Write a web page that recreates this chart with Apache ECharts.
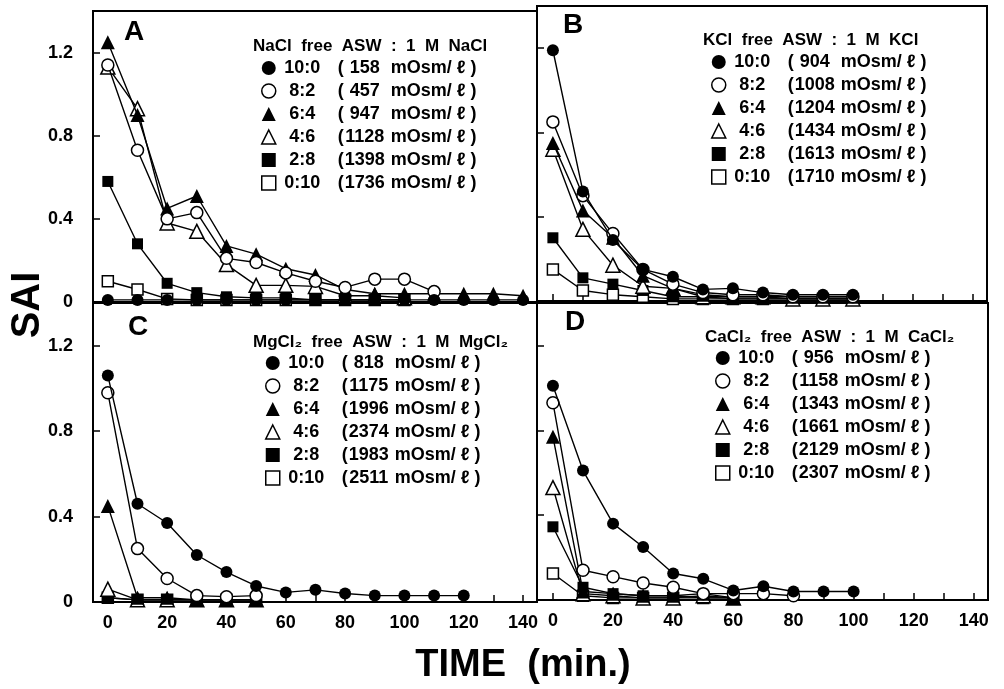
<!DOCTYPE html>
<html><head><meta charset="utf-8">
<script src="https://cdn.jsdelivr.net/npm/echarts@6/dist/echarts.min.js"></script>
<style>html,body{margin:0;padding:0;background:#fff}#c{width:1004px;height:689px}</style>
</head><body><div id="c"></div>
<script>
// ---------- data ----------
const TIME = [0,10,20,30,40,50,60,70,80,90,100,110,120,130,140];
const X_TICKS = [0,10,20,30,40,50,60,70,80,90,100,110,120,130,140];
const X_LABELS = [0,20,40,60,80,100,120,140];
const Y_TICKS = [0,0.4,0.8,1.2];
const RATIOS = ['10:0','8:2','6:4','4:6','2:8','0:10'];

const PANEL_LETTERS = ['A','B','C','D'];
const PANEL_HEADERS = [
  'NaCl  free  ASW  :  1  M  NaCl',
  'KCl  free  ASW  :  1  M  KCl',
  'MgCl₂  free  ASW  :  1  M  MgCl₂',
  'CaCl₂  free  ASW  :  1  M  CaCl₂'
];
const OSM_A = [158,457,947,1128,1398,1736];
const OSM_B = [904,1008,1204,1434,1613,1710];
const OSM_C = [818,1175,1996,2374,1983,2511];
const OSM_D = [956,1158,1343,1661,2129,2307];

// Panel A : NaCl
const A_10_0 = [0.01,0.01,0.01,0.01,0.01,0.01,0.01,0.01,0.01,0.01,0.01,0.01,0.01,0.01,0.01];
const A_8_2  = [1.14,0.73,0.40,0.43,0.21,0.19,0.14,0.10,0.07,0.11,0.11,0.05];
const A_6_4  = [1.25,0.90,0.45,0.51,0.27,0.23,0.16,0.13,0.06,0.04,0.04,0.04,0.04,0.04,0.03];
const A_4_6  = [1.13,0.93,0.38,0.34,0.18,0.08,0.08,0.075,0.03,0.03,0.02];
const A_2_8  = [0.58,0.28,0.09,0.045,0.025,0.02,0.02,0.01,0.01,0.01,0.01];
const A_0_10 = [0.10,0.06,0.015,0.01,0.01,0.01,0.01,0.01,0.01,0.01,0.01];

// Panel B : KCl
const B_10_0 = [1.19,0.52,0.29,0.15,0.115,0.055,0.06,0.04,0.03,0.03,0.03];
const B_8_2  = [0.85,0.50,0.32,0.15,0.08,0.04,0.03,0.03,0.02,0.02,0.02];
const B_6_4  = [0.75,0.43,0.30,0.12,0.06,0.03,0.02,0.02,0.02,0.02,0.02];
const B_4_6  = [0.72,0.34,0.17,0.07,0.06,0.02,0.02,0.02,0.01,0.01,0.01];
const B_2_8  = [0.30,0.11,0.08,0.05,0.02,0.02,0.01,0.01,0.01,0.01,0.01];
const B_0_10 = [0.15,0.05,0.03,0.02,0.01,0.01,0.01,0.01,0.01,0.01,0.01];

// Panel C : MgCl2
const C_10_0 = [1.06,0.46,0.37,0.22,0.14,0.075,0.045,0.057,0.04,0.03,0.03,0.03,0.03];
const C_8_2  = [0.98,0.25,0.11,0.03,0.025,0.03];
const C_6_4  = [0.45,0.02,0.02,0.01,0.01,0.01];
const C_4_6  = [0.06,0.01,0.01,0.01,0.01,0.01];
const C_2_8  = [0.02,0.01,0.01,0.01,0.01,0.01];
const C_0_10 = [0.02,0.01,0.01,0.01,0.01,0.01];

// Panel D : CaCl2
const D_10_0 = [1.01,0.61,0.36,0.25,0.125,0.10,0.045,0.065,0.04,0.04,0.04];
const D_8_2  = [0.93,0.14,0.11,0.08,0.06,0.03,0.03,0.03,0.02];
const D_6_4  = [0.77,0.04,0.03,0.02,0.02,0.03,0.01];
const D_4_6  = [0.53,0.03,0.02,0.01,0.01,0.02,0.01];
const D_2_8  = [0.345,0.06,0.03,0.02,0.02,0.01,0.01];
const D_0_10 = [0.125,0.02,0.01,0.01,0.01,0.01,0.01];

const PANEL_SERIES = [
  [A_10_0,A_8_2,A_6_4,A_4_6,A_2_8,A_0_10],
  [B_10_0,B_8_2,B_6_4,B_4_6,B_2_8,B_0_10],
  [C_10_0,C_8_2,C_6_4,C_4_6,C_2_8,C_0_10],
  [D_10_0,D_8_2,D_6_4,D_4_6,D_2_8,D_0_10]
];
const PANEL_OSM = [OSM_A,OSM_B,OSM_C,OSM_D];

// ---------- styling / layout ----------
const FONT = 'Liberation Sans, Arial, sans-serif';
const SYMBOLS = ['circle','circle','triangle','triangle','rect','rect'];
const SIZES = [12,12,14,14,11,11];
const FILLED = [true,false,true,false,true,false];
const GRIDS = [
  {left:93, top:11, width:444, height:291},
  {left:537, top:6, width:450, height:295},
  {left:93, top:303, width:444, height:299},
  {left:537, top:303, width:451, height:297}
];
const XRANGE = [[-5,144.7],[-5.3,144.7],[-5,144.7],[-5.3,144.7]];
const LEGEND_POS = [{left:261,top:59},{left:711,top:53},{left:265,top:354},{left:715,top:349}];
const HEADER_POS = [{x:253,y:46},{x:703,y:40},{x:253,y:342},{x:705,y:337}];
const LETTER_POS = [{x:134,y:32},{x:573,y:25},{x:138,y:327},{x:575,y:322}];

const nameInfo = {};
const series = [];
const legends = [];
PANEL_SERIES.forEach((arrs, pi) => {
  const names = [];
  arrs.forEach((vals, si) => {
    const osm = PANEL_OSM[pi][si];
    const name = RATIOS[si] + ' (' + osm + ' mOsm/ℓ)';
    nameInfo[name] = {r: RATIOS[si], osm: osm};
    names.push(name);
    const ist = FILLED[si] ? {color:'#000', borderColor:'#000', borderWidth:0}
                           : {color:'#fff', borderColor:'#000', borderWidth:1.5};
    series.push({
      type:'line', name: name, xAxisIndex: pi, yAxisIndex: pi,
      data: vals.map((v,i)=>[TIME[i], v]),
      symbol: SYMBOLS[si], symbolSize: SIZES[si], showAllSymbol: true,
      lineStyle: {color:'#000', width:1.4},
      itemStyle: ist,
      emphasis: {disabled:true},
      silent: true,
      z: 2 + (5 - si) * 0.1
    });
  });
  legends.push({
    orient:'vertical', left: LEGEND_POS[pi].left, top: LEGEND_POS[pi].top,
    padding: 0, itemGap: 5, itemWidth: 14, itemHeight: 14, selectedMode: false,
    data: names.map((n, si) => ({
      name: n, icon: SYMBOLS[si],
      itemStyle: FILLED[si] ? {color:'#000', borderColor:'#000', borderWidth:0}
                            : {color:'#fff', borderColor:'#000', borderWidth:1.5}
    })),
    formatter: (name) => {
      const inf = nameInfo[name];
      return '{r|' + inf.r + '}{o|(}{n|' + inf.osm + '}{u| mOsm/ ℓ )}';
    },
    textStyle: {
      color:'#000', fontFamily: FONT, fontWeight:'bold', fontSize:18, lineHeight:14,
      rich: {
        r: {width:43, align:'right', fontFamily: FONT, fontWeight:'bold', fontSize:18, lineHeight:14, color:'#000'},
        o: {padding:[0,0,0,14], fontFamily: FONT, fontWeight:'bold', fontSize:18, lineHeight:14, color:'#000'},
        n: {width:42, align:'right', fontFamily: FONT, fontWeight:'bold', fontSize:18, lineHeight:14, color:'#000'},
        u: {fontFamily: FONT, fontWeight:'bold', fontSize:18, lineHeight:14, color:'#000'}
      }
    }
  });
});

const xAxes = GRIDS.map((g, pi) => ({
  gridIndex: pi, type:'value', min: XRANGE[pi][0], max: XRANGE[pi][1],
  axisLine: {show:true, onZero:false, lineStyle:{color:'#000', width:2}},
  axisTick: {show:true, inside:true, length:7, customValues: X_TICKS, lineStyle:{color:'#000', width:1.5}},
  axisLabel: {show: pi >= 2, customValues: X_LABELS, margin: 12, color:'#000',
              fontFamily: FONT, fontWeight:'bold', fontSize:18},
  splitLine: {show:false}
}));
const yAxes = GRIDS.map((g, pi) => ({
  gridIndex: pi, type:'value', min: 0, max: 1.4,
  axisLine: {show:true, onZero:false, lineStyle:{color:'#000', width:2}},
  axisTick: {show:true, inside:true, length:7, customValues: Y_TICKS, lineStyle:{color:'#000', width:1.5}},
  axisLabel: {show: pi % 2 === 0, customValues: Y_TICKS, margin: 20, color:'#000',
              fontFamily: FONT, fontWeight:'bold', fontSize:18,
              formatter: v => v === 0 ? '0' : v.toFixed(1)},
  splitLine: {show:false}
}));

const graphics = [];
PANEL_LETTERS.forEach((L, pi) => {
  graphics.push({type:'text', x: LETTER_POS[pi].x, y: LETTER_POS[pi].y, silent:true,
    style:{text:L, fill:'#000', font:'bold 28px ' + FONT, textAlign:'center', textVerticalAlign:'middle'}});
  graphics.push({type:'text', x: HEADER_POS[pi].x, y: HEADER_POS[pi].y, silent:true,
    style:{text:PANEL_HEADERS[pi], fill:'#000', font:'bold 17px ' + FONT, textAlign:'left', textVerticalAlign:'middle'}});
});
graphics.push({type:'text', x:28, y:305, rotation: Math.PI/2, silent:true,
  style:{text:'SAI', fill:'#000', font:'bold 40px ' + FONT, textAlign:'center', textVerticalAlign:'middle'}});
graphics.push({type:'text', x:523, y:666, silent:true,
  style:{text:'TIME  (min.)', fill:'#000', font:'bold 38px ' + FONT, textAlign:'center', textVerticalAlign:'middle'}});

const chart = echarts.init(document.getElementById('c'), null, {renderer:'canvas'});
chart.setOption({
  animation: false,
  backgroundColor: '#fff',
  grid: GRIDS.map(g => Object.assign({show:true, borderColor:'#000', borderWidth:2, backgroundColor:'transparent'}, g)),
  xAxis: xAxes,
  yAxis: yAxes,
  legend: legends,
  series: series,
  graphic: graphics
});
</script>
</body></html>
